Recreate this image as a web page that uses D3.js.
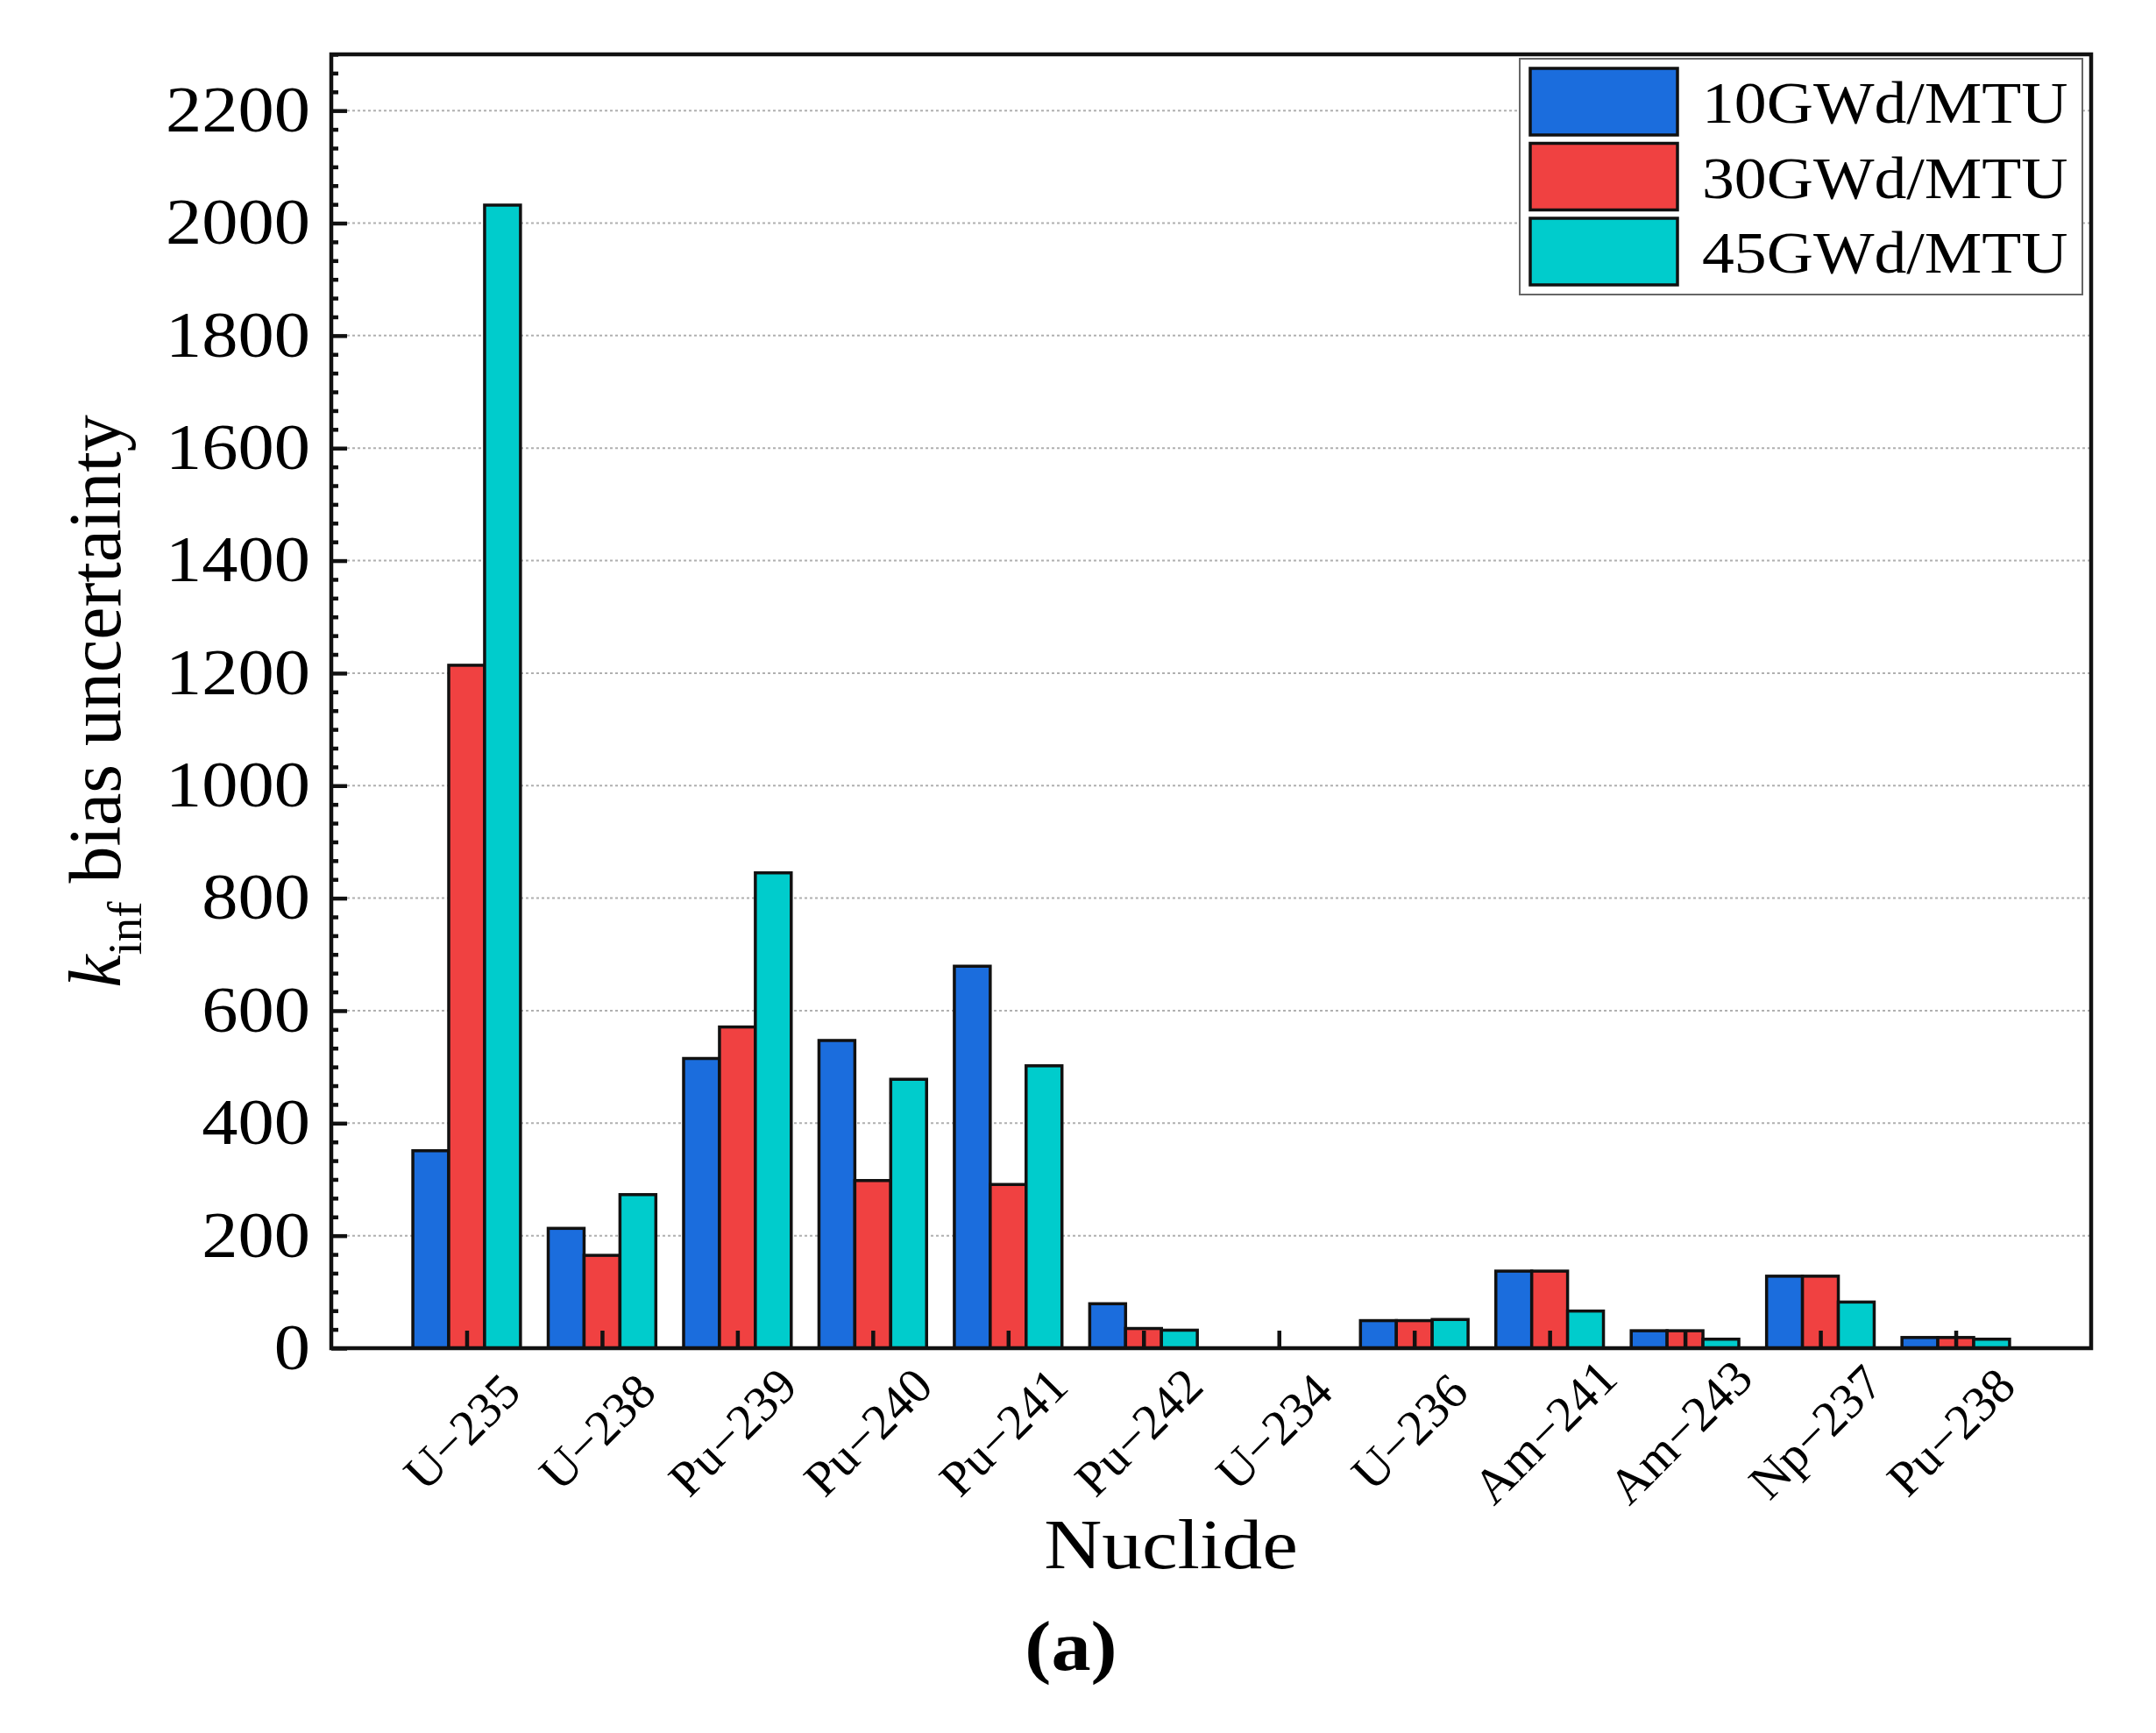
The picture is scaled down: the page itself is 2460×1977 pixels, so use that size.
<!DOCTYPE html>
<html>
<head>
<meta charset="utf-8">
<script src="https://cdn.jsdelivr.net/npm/d3@7"></script>
<style>
  html, body { margin: 0; padding: 0; background: #fff; }
  svg { display: block; }
  text { font-family: "Liberation Serif", "Times New Roman", serif; fill: #000; }
</style>
</head>
<body>
<svg id="chart" width="2460" height="1977"></svg>
<script>
// ---- Data ----
const categories = ["U−235", "U−238", "Pu−239", "Pu−240", "Pu−241", "Pu−242", "U−234", "U−236", "Am−241", "Am−243", "Np−237", "Pu−238"];
const seriesNames = ["10GWd/MTU", "30GWd/MTU", "45GWd/MTU"];
const values10 = [351, 213, 515, 547, 679, 79, 0, 49, 137, 31, 128, 19];
const values30 = [1214, 165, 571, 298, 291, 35, 0, 49, 137, 31, 128, 19];
const values45 = [2032, 273, 845, 478, 502, 32, 0, 51, 66, 16, 82, 16];
const yTickValues = [0, 200, 400, 600, 800, 1000, 1200, 1400, 1600, 1800, 2000, 2200];
const colors = ["#1b6ddd", "#f04141", "#00cccc"];

const seriesValues = [values10, values30, values45];

// ---- Layout ----
const svg = d3.select("#chart");
const W = 2460, H = 1977;
const L = 378, R = 2386, T = 62, B = 1538;
const SX = 1.13; // horizontal stretch of the original figure's text

svg.append("rect").attr("width", W).attr("height", H).attr("fill", "#fff");

const x = d3.scalePoint().domain(categories).range([L, R]).padding(1);
const y = d3.scaleLinear().domain([0, 2300]).range([B, T]);
const groupW = x.step() * 0.795;
const xs = d3.scaleBand().domain(seriesNames).range([-groupW / 2, groupW / 2]).padding(0);

// gridlines
svg.append("g").selectAll("line")
  .data(yTickValues.filter(v => v > 0))
  .join("line")
  .attr("x1", L).attr("x2", R)
  .attr("y1", d => y(d)).attr("y2", d => y(d))
  .attr("stroke", "#b0b0b0").attr("stroke-width", 2)
  .attr("stroke-dasharray", "3,3");

// bars
const groups = svg.append("g").selectAll("g")
  .data(categories)
  .join("g")
  .attr("transform", d => `translate(${x(d)},0)`);

groups.selectAll("rect")
  .data((c, i) => seriesNames.map((s, k) => ({ s, k, v: seriesValues[k][i] })))
  .join("rect")
  .filter(d => d.v > 0)
  .attr("x", d => xs(d.s))
  .attr("width", xs.bandwidth())
  .attr("y", d => y(d.v))
  .attr("height", d => y(0) - y(d.v))
  .attr("fill", d => colors[d.k])
  .attr("stroke", "#111")
  .attr("stroke-width", 3.5);

// y axis major
const yAxis = svg.append("g")
  .attr("transform", `translate(${L},0)`)
  .call(d3.axisLeft(y).tickValues(yTickValues).tickSize(-18).tickPadding(24).tickFormat(d3.format("d")));
yAxis.select(".domain").remove();
yAxis.selectAll(".tick line").attr("stroke", "#111").attr("stroke-width", 4.5);
yAxis.selectAll(".tick text")
  .attr("font-size", 73)
  .attr("font-family", "Liberation Serif, serif")
  .attr("x", 0)
  .attr("transform", `translate(-24,0) scale(${SX},1)`);

// y axis minor
const minorVals = d3.range(0, 70).map(i => i * 200 / 6).filter((v, i) => i % 6 !== 0 && v <= 2300);
const yMinor = svg.append("g")
  .attr("transform", `translate(${L},0)`)
  .call(d3.axisLeft(y).tickValues(minorVals).tickSize(-8).tickFormat(""));
yMinor.select(".domain").remove();
yMinor.selectAll(".tick line").attr("stroke", "#111").attr("stroke-width", 4.5);

// x axis ticks
const xAxis = svg.append("g")
  .attr("transform", `translate(0,${B})`)
  .call(d3.axisBottom(x).tickSize(-20).tickFormat(""));
xAxis.select(".domain").remove();
xAxis.selectAll(".tick line").attr("stroke", "#111").attr("stroke-width", 4.5);

// x tick labels (rotated)
svg.append("g").selectAll("text")
  .data(categories)
  .join("text")
  .attr("transform", d => `translate(${x(d) - 6},1633) rotate(-45)`)
  .attr("text-anchor", "middle")
  .attr("dy", "0.35em")
  .attr("font-size", 57)
  .text(d => d);

// frame
svg.append("rect")
  .attr("x", L).attr("y", T)
  .attr("width", R - L).attr("height", B - T)
  .attr("fill", "none").attr("stroke", "#111").attr("stroke-width", 4.5);

// axis titles
svg.append("text")
  .attr("transform", `translate(1336,1789) scale(${SX},1)`)
  .attr("text-anchor", "middle")
  .attr("font-size", 81)
  .text("Nuclide");

const yt = svg.append("text")
  .attr("transform", "translate(137,800) rotate(-90)")
  .attr("text-anchor", "middle")
  .attr("font-size", 84);
yt.append("tspan").attr("font-style", "italic").text("k");
yt.append("tspan").attr("font-size", 55).attr("dy", 24).text("inf");
yt.append("tspan").attr("dy", -24).text(" bias uncertainty");

// (a) caption
svg.append("text")
  .attr("transform", `translate(1222,1905) scale(${SX},1)`)
  .attr("text-anchor", "middle")
  .attr("font-size", 80)
  .attr("font-weight", "bold")
  .text("(a)");

// legend
const lg = svg.append("g");
lg.append("rect")
  .attr("x", 1734).attr("y", 67).attr("width", 642).attr("height", 269)
  .attr("fill", "#fff").attr("stroke", "#666").attr("stroke-width", 2);
const items = lg.selectAll("g.item")
  .data(seriesNames)
  .join("g")
  .attr("class", "item")
  .attr("transform", (d, i) => `translate(0,${78 + i * 85.5})`);
items.append("rect")
  .attr("x", 1746).attr("y", 0).attr("width", 168).attr("height", 76)
  .attr("fill", (d, i) => colors[i]).attr("stroke", "#111").attr("stroke-width", 3.5);
items.append("text")
  .attr("transform", `translate(1942,62) scale(1.1,1)`)
  .attr("font-size", 67)
  .text(d => d);
</script>
</body>
</html>
